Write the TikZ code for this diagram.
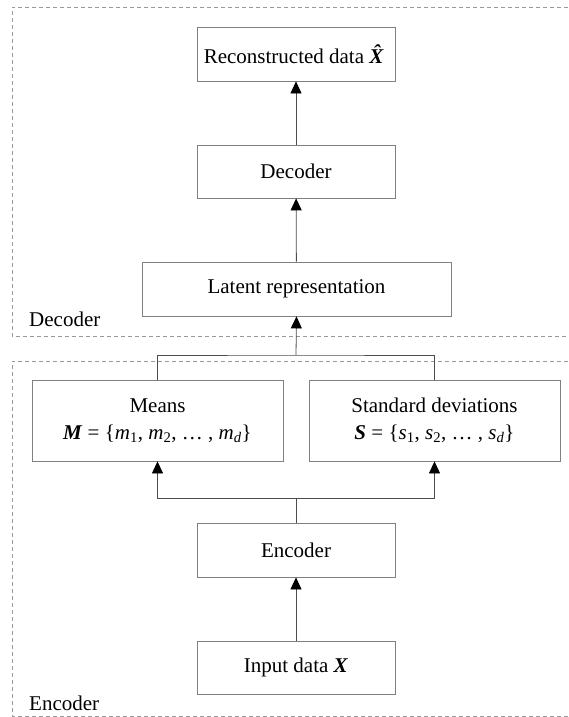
\documentclass[tikz,border=0pt]{standalone}
\usepackage{fontspec}
\setmainfont{Liberation Serif}
\usetikzlibrary{arrows.meta}
\newcommand{\bvec}[1]{\textbf{\textit{#1}}}
\begin{document}
\begin{tikzpicture}[x=1pt,y=-1pt,
  box/.style={draw=black!50, line width=0.8pt, minimum width=198pt, minimum height=54pt,
    inner sep=0pt, align=center, font=\fontsize{21}{27}\selectfont},
  wide/.style={box, minimum width=251pt, minimum height=81pt},
  link/.style={draw=black!70, line width=0.8pt},
  arr/.style={link, -{Triangle[length=12pt,width=11pt,color=black]}},
  frame/.style={draw=black!40, line width=0.8pt, dash pattern=on 4pt off 3pt},
  tag/.style={font=\fontsize{21}{27}\selectfont, anchor=base west, inner sep=0pt}]
\useasboundingbox (0,0) rectangle (569,717);
\clip (0,0) rectangle (569,717);

% dashed group frames, open on the right
\draw[frame] (575,7) -- (12,7) -- (12,336) -- (575,336);
\draw[frame] (575,361) -- (12,361) -- (12,716) -- (575,716);
\node[tag] (declabel) at (29,326) {Decoder};
\node[tag] (enclabel) at (29,710) {Encoder};

% blocks
\node[box] (recon) at (296,54) {Reconstructed data \bvec{\^{X}}};
\node[box, minimum height=53pt] (dec) at (296,171.5) {Decoder};
\node[box, minimum width=309pt] (lat) at (296.5,289) {Latent representation};
\node[wide] (means) at (157.5,420.5) {Means\\\bvec{M} = \{\textit{m}\textsubscript{1}, \textit{m}\textsubscript{2}, … , \textit{m}\textsubscript{\textit{d}}\}};
\node[wide] (std) at (434.5,420.5) {Standard deviations\\\bvec{S} = \{\textit{s}\textsubscript{1}, \textit{s}\textsubscript{2}, … , \textit{s}\textsubscript{\textit{d}}\}};
\node[box] (enc) at (296,550) {Encoder};
\node[box, minimum height=53pt] (in) at (296,667.5) {Input data \bvec{X}};

% junction points
\coordinate (split) at (296,498);
\coordinate (join) at (296,355);

% connectors
\draw[arr] (in) -- (enc);
\draw[link] (enc.north) -- (split);
\draw[arr] (split) -| (means.south);
\draw[arr] (split) -| (std.south);
\draw[link] (means.north) |- (join) -| (std.north);
\draw[arr] (join) -- (lat.south);
\draw[arr] (lat) -- (dec);
\draw[arr] (dec) -- (recon);
\end{tikzpicture}
\end{document}
